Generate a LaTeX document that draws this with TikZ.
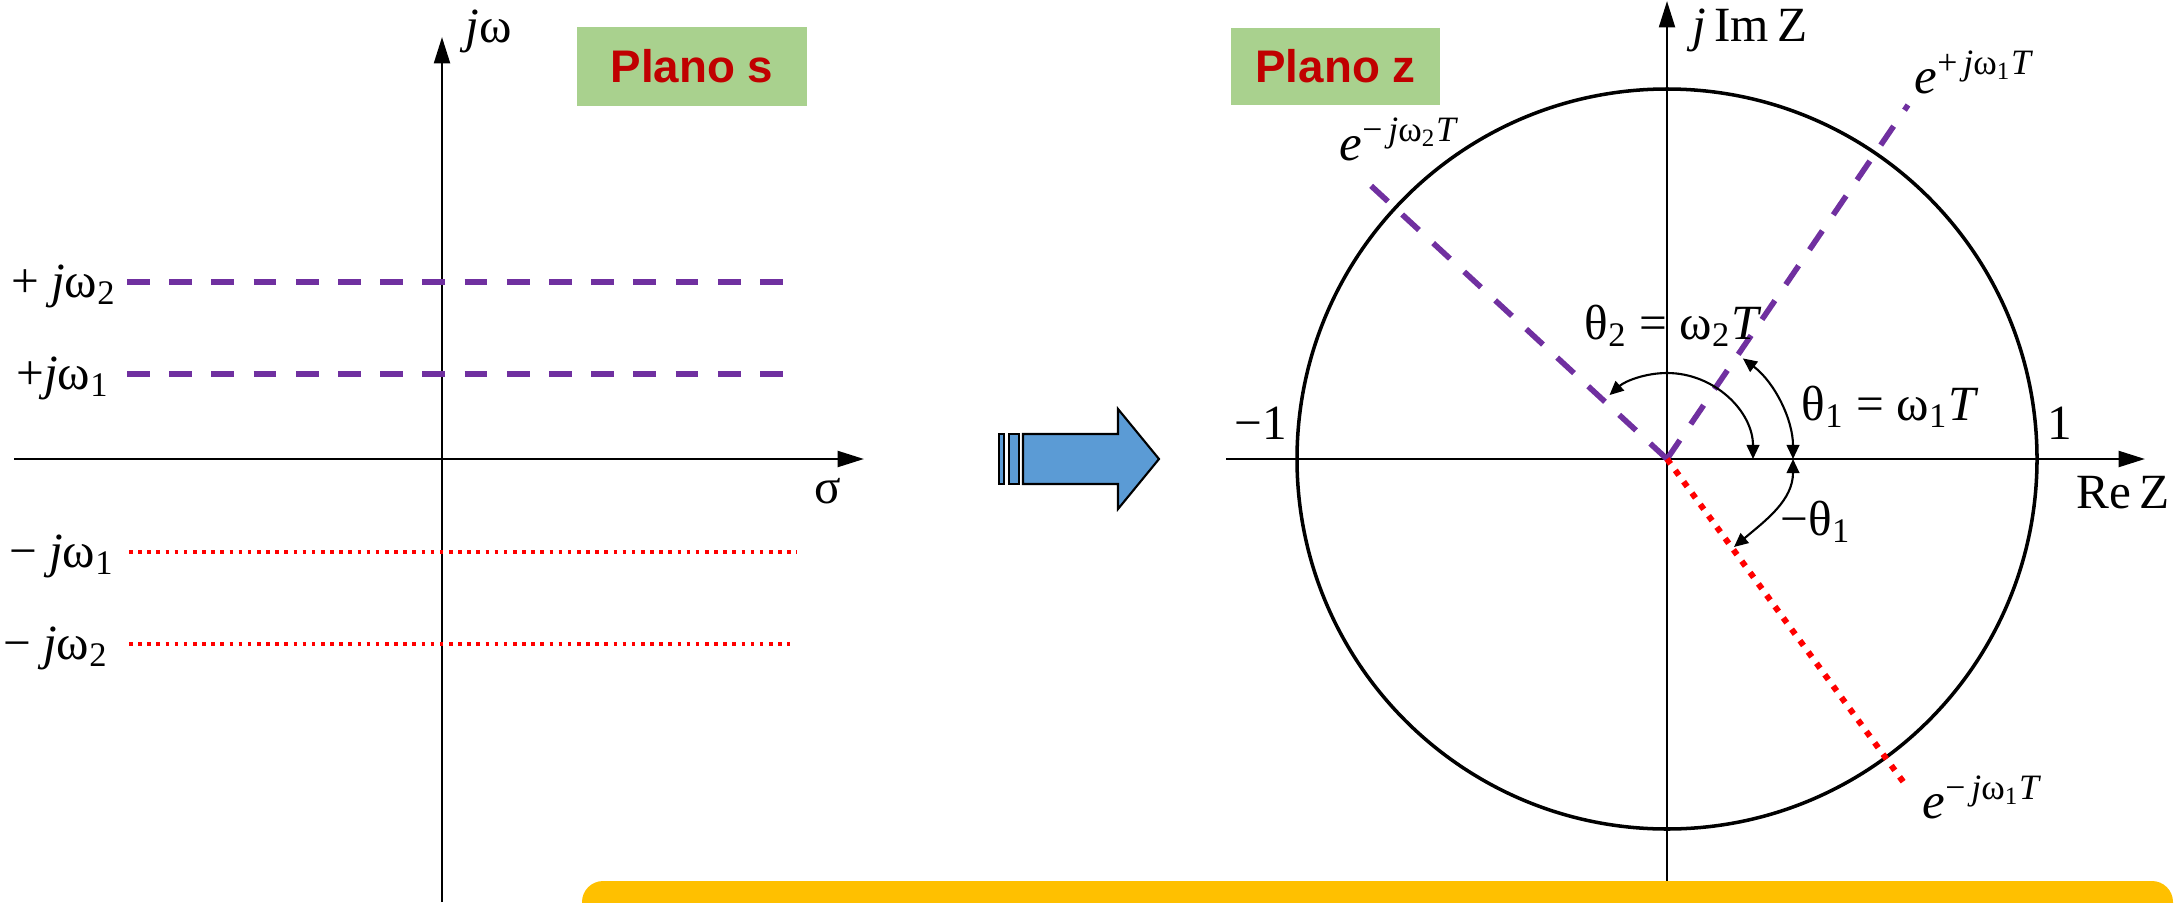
\documentclass[tikz,border=0pt]{standalone}
\usepackage{fontspec}
\setmainfont{Liberation Serif}
\newfontfamily\planofont{Liberation Sans}
\usepackage{tikz}
\usetikzlibrary{arrows.meta}
\definecolor{zpurple}{HTML}{7030A0}
\definecolor{zred}{HTML}{FF0000}
\definecolor{zgreen}{HTML}{A9D18E}
\definecolor{zdarkred}{HTML}{C00000}
\definecolor{zblue}{HTML}{5B9BD5}
\definecolor{zyellow}{HTML}{FFC000}
\newcommand{\jw}[1]{\textit{j}ω\textsubscript{#1}}
\newcommand{\expo}[2]{\textit{e}\textsuperscript{#1\,\textit{j}ω\textsubscript{#2}\textit{T}}}

\begin{document}
\begin{tikzpicture}[
  x=0.01cm, y=0.01cm,
  >={Triangle[length=7.5pt,width=4.5pt]},
  axis/.style={line width=0.75pt},
  lab/.style={font=\fontsize{14}{16}\selectfont, inner sep=0pt},
  elab/.style={font=\fontsize{14.5}{16}\selectfont, inner sep=0pt, anchor=base west},
  plano/.style={fill=zgreen, text=zdarkred, inner sep=0pt, font=\planofont\bfseries\fontsize{13}{15}\selectfont},
  posline/.style={zpurple, line width=1.6pt, dash pattern=on 6.5pt off 5.5pt},
  negline/.style={zred, line width=1pt, dash pattern=on 1pt off 1.6pt},
  negthick/.style={zred, line width=1.7pt, dash pattern=on 1.7pt off 2.3pt},
  angarrow/.style={line width=0.6pt, {Triangle[length=4pt,width=3.6pt]}-{Triangle[length=4pt,width=3.6pt]}}
]
\useasboundingbox (0,0) rectangle (2179,902);

% Plano s
\coordinate (sO) at (442,443);
\coordinate (sW) at (14,443);
\coordinate (sE) at (864,443);
\coordinate (sS) at (442,0);
\coordinate (sN) at (442,865);
\draw[axis,->] (sW) -- (sE);
\draw[axis,->] (sS) -- (sN);
\node[lab] (jwlab) at (489,871) {\textit{j}ω};
\node[lab] (sigma) at (828,411) {σ};
\node[plano, minimum width=2.3cm, minimum height=0.79cm] (planos) at (692,835.5) {Plano s};

% Frequency lines
\coordinate (p2a) at (127,620); \coordinate (p2b) at (790,620);
\coordinate (p1a) at (127,528); \coordinate (p1b) at (790,528);
\coordinate (m1a) at (129,350); \coordinate (m1b) at (797,350);
\coordinate (m2a) at (129,258); \coordinate (m2b) at (790,258);
\draw[posline] (p2a) -- (p2b);
\draw[posline] (p1a) -- (p1b);
\draw[negline] (m1a) -- (m1b);
\draw[negline] (m2a) -- (m2b);
\node[lab, anchor=east] (lp2) at (117,616) {+ \jw{2}};
\node[lab, anchor=east] (lp1) at (110,524) {+\jw{1}};
\node[lab, anchor=east] (lm1) at (115,346) {− \jw{1}};
\node[lab, anchor=east] (lm2) at (109,254) {− \jw{2}};

% Mapping arrow
\draw[fill=zblue, line width=0.6pt] (1023,418) -- (1118,418) -- (1118,393) -- (1159,443)
  -- (1118,493) -- (1118,468) -- (1023,468) -- cycle;
\draw[fill=zblue, line width=0.6pt] (999,418) rectangle (1004,468);
\draw[fill=zblue, line width=0.6pt] (1009,418) rectangle (1019,468);

% Plano z
\coordinate (zO) at (1667,443);
\coordinate (zW) at (1226,443);
\coordinate (zE) at (2145,443);
\coordinate (zS) at (1667,0);
\coordinate (zN) at (1667,901);
\draw[axis,->] (zW) -- (zE);
\draw[axis,->] (zS) -- (zN);
\draw[line width=1pt] (zO) circle[radius=370];
\node[plano, minimum width=2.09cm, minimum height=0.77cm] (planoz) at (1335.5,835.5) {Plano z};
\node[lab] (imz) at (1750,872) {\textit{j}\,Im\,Z};
\node[lab] (rez) at (2123,409) {Re\,Z};
\node[lab] (mone) at (1261,479) {−1};
\node[lab] (one) at (2060,479) {1};

% Poles on the circle
\coordinate (e1) at (1908,797);
\coordinate (e2) at (1368,719);
\coordinate (en) at (1907,115);
\draw[posline] (zO) -- (e1);
\draw[posline] (zO) -- (e2);
\draw[negthick] (zO) -- (en);
\node[elab] (le1) at (1914,809) {\expo{+}{1}};
\node[elab] (le2) at (1339,742) {\expo{−}{2}};
\node[elab] (len) at (1922,84) {\expo{−}{1}};

% Angles
\coordinate (tn) at (1734,355);
\draw[angarrow] ([shift={(0:86)}]zO) arc[start angle=0, end angle=132, radius=86];
\draw[angarrow] ([shift={(0:126)}]zO) arc[start angle=0, end angle=53, radius=126];
\draw[angarrow] ([shift={(0:126)}]zO) to[out=-90, in=40] (tn);
\node[lab, anchor=base west] (th2) at (1584,563) {θ\textsubscript{2} = ω\textsubscript{2}\textit{T}};
\node[lab, anchor=base west] (th1) at (1801,482) {θ\textsubscript{1} = ω\textsubscript{1}\textit{T}};
\node[lab, anchor=base west] (thn) at (1780,367) {−θ\textsubscript{1}};

% Bottom bar
\fill[zyellow, rounded corners=6pt] (582,-60) rectangle (2173,21);

\end{tikzpicture}
\end{document}
